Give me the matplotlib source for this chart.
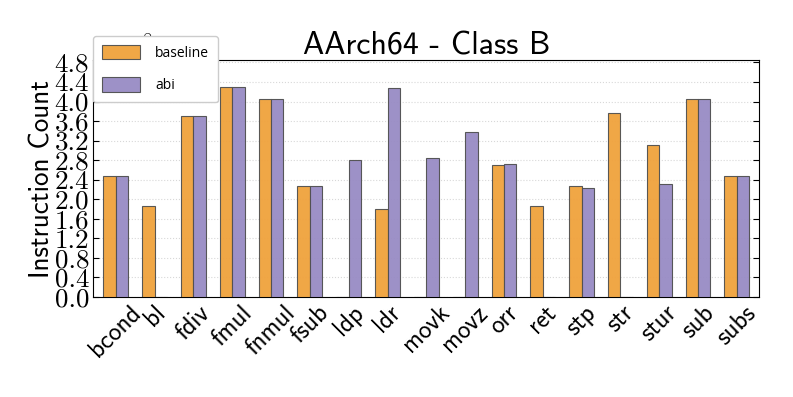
import numpy as np
import matplotlib
matplotlib.use("Agg")
import matplotlib.pyplot as plt

plt.rcParams['mathtext.fontset'] = 'cm'
plt.rcParams['axes.unicode_minus'] = False

categories = ["bcond", "bl", "fdiv", "fmul", "fnmul", "fsub", "ldp", "ldr", "movk",
              "movz", "orr", "ret", "stp", "str", "stur", "sub", "subs"]
baseline = [2.48, 1.86, 3.71, 4.30, 4.06, 2.27, 0.0, 1.80, 0.0,
            0.0, 2.70, 1.86, 2.28, 3.77, 3.10, 4.05, 2.48]
abi = [2.48, 0.0, 3.71, 4.30, 4.06, 2.27, 2.81, 4.27, 2.85,
       3.37, 2.72, 0.0, 2.22, 0.0, 2.31, 4.05, 2.48]
yticks = [0.0, 0.4, 0.8, 1.2, 1.6, 2.0, 2.4, 2.8, 3.2, 3.6, 4.0, 4.4, 4.8]

SANS = ['cmss10', 'DejaVu Sans']
SERIF = ['cmr10', 'DejaVu Serif']

fig = plt.figure(figsize=(7.93, 3.97), dpi=100)
ax = fig.add_axes([0.1177, 0.252, 0.8398, 0.5957])

x = np.arange(len(categories))
w = 0.32
ax.bar(x - w/2, baseline, w, color='#f0a23c', edgecolor='#505050', linewidth=0.8,
       alpha=0.95, label='baseline', zorder=3)
ax.bar(x + w/2, abi, w, color='#988bc4', edgecolor='#505050', linewidth=0.8,
       alpha=0.95, label='abi', zorder=3)

ax.set_xlim(-0.58, len(categories) - 1 + 0.58)
ax.set_ylim(0, 4.84)
ax.set_yticks(yticks)
ax.set_yticklabels(['%.1f' % v for v in yticks], fontsize=19.5, family=SERIF)
ax.set_xticks(x)
ax.set_xticklabels(categories, fontsize=18, family=SANS, rotation=45, ha='center')
ax.tick_params(axis='x', length=0, pad=3)
ax.tick_params(axis='y', direction='in', right=True, length=4, pad=3)
ax.grid(axis='y', color='#d8d8d8', linestyle=':', linewidth=0.8, zorder=0)
ax.set_axisbelow(True)

ax.set_ylabel('Instruction Count', fontsize=19.5, family=SANS, labelpad=0)
ax.set_title('AArch64 - Class B', fontsize=23, family=SANS, pad=3)

ax.text(0.0, 0.99, r'$\times10^{8}$', transform=ax.transAxes, fontsize=19.5,
        ha='left', va='bottom', zorder=1)

leg = ax.legend(loc='upper left', bbox_to_anchor=(0.0, 1.1036), borderaxespad=0,
                prop={'family': 'Open Sans', 'size': 10},
                frameon=True, framealpha=1.0, edgecolor='#cccccc',
                handlelength=2.7, handleheight=1.2, handletextpad=1.1,
                borderpad=0.65, labelspacing=1.2)
leg.set_zorder(10)

fig.savefig('out.png', dpi=100)
